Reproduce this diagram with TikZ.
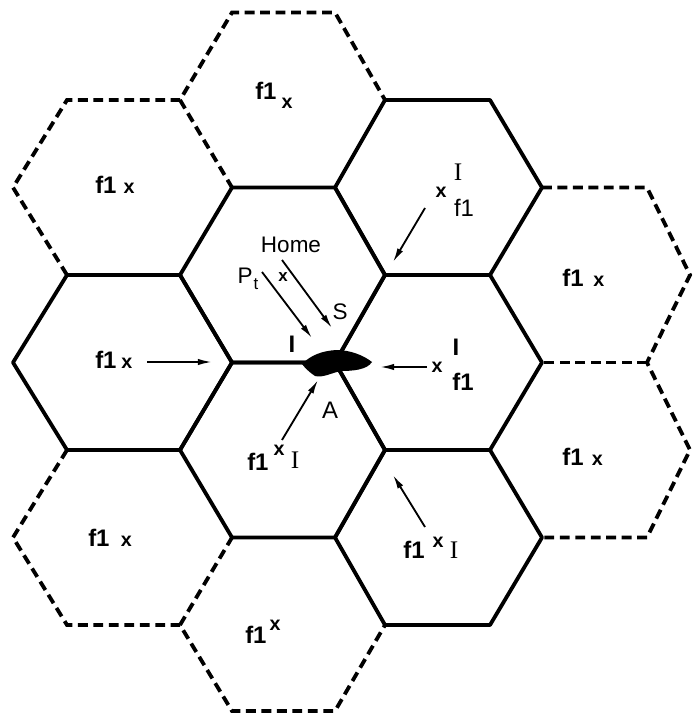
\documentclass[tikz,border=0pt]{standalone}
\usepackage{fontspec}
\setmainfont{Liberation Sans}
\newfontfamily\serifI{Liberation Serif}
\usetikzlibrary{arrows.meta}
\newcommand{\sx}{{\fontsize{14}{16}\selectfont x}}

\begin{document}
\begin{tikzpicture}[x=0.025cm,y=-0.025cm,
    cell/.style={line width=2.7pt,line join=round},
    ghost/.style={line width=2.7pt,dash pattern=on 7pt off 4pt},
    arr/.style={-{Latex[length=10pt,width=4.5pt]},line width=1.3pt},
    lbl/.style={inner sep=0pt,font=\fontsize{17}{20}\selectfont\bfseries},
    sm/.style={inner sep=0pt,font=\fontsize{14}{16}\selectfont\bfseries},
    txt/.style={inner sep=0pt,font=\fontsize{16}{19}\selectfont}]
        \useasboundingbox(0,0)rectangle(693,714);
        % 破線のセル
        \draw[ghost](67,275)--(13,187.5)--(67,100)--(180,100)--(232,12.5)--(335,12.5)--(385,100);
        \draw[ghost](180,100)--(232,187.5);
        \draw[ghost](542,187.5)--(647,187.5)--(690,275)--(647,362.5)--(690,450)--(647,537.5)--(542,537.5);
        \draw[ghost](647,362.5)--(542,362.5);
        \draw[ghost](67,450)--(13,537.5)--(67,625)--(180,625)--(232,711)--(335,711)--(385,625);
        \draw[ghost](180,625)--(232,537.5);
        % 実線のセル
        \foreach \L/\a/\b/\R/\y in {13/67/180/232/362.5,180/232/335/385/275,180/232/335/385/450,
                                  335/385/490/542/187.5,335/385/490/542/362.5,335/385/490/542/537.5}
            \draw[cell](\L,\y)--(\a,\y-87.5)--(\b,\y-87.5)--(\R,\y)--(\b,\y+87.5)--(\a,\y+87.5)--cycle;
        % 移動局
        \fill(302,364)..controls(311,355)and(322,351)..(336,350)..controls(350,350)and(363,355)..(372,362)
            ..controls(367,370)and(352,371)..(341,371)..controls(331,373)and(323,378)..(315,376)
            ..controls(309,372)and(305,368)..cycle;
        % ラベル
        \node[lbl,anchor=west](topf)at(255,91){f1};
        \node[sm](topx)at(287,103){x};
        \node[lbl,anchor=west](ul)at(95,185){f1\hspace{5pt}\sx};
        \node[lbl,anchor=west](ml)at(95,360){f1\hspace{3.5pt}\sx};
        \node[lbl,anchor=west](ll)at(88,538){f1\hspace{8pt}\sx};
        \node[lbl,anchor=west](botf)at(245,635){f1};
        \node[sm](botx)at(275,625){x};
        \node[lbl,anchor=west](ur)at(562,278){f1\hspace{7pt}\sx};
        \node[lbl,anchor=west](lr)at(562,457){f1\hspace{6pt}\sx};
        % ホームセル
        \node[txt](home)at(291,245){Home};
        \node[txt](P)at(245,276){P};
        \node[txt,font=\fontsize{12}{14}\selectfont](t)at(256,284){t};
        \node[sm,font=\fontsize{12}{14}\selectfont\bfseries](homex)at(283,277){x};
        \node[txt](S)at(340,312){S};
        \node[txt,font=\fontsize{17}{20}\selectfont\bfseries](I0)at(292,344){I};
        \node[txt,font=\fontsize{17}{20}\selectfont](A)at(330,410){A};
        % 干渉波
        \node[lbl,anchor=west](df)at(247,462){f1};
        \node[sm](dx)at(279,450){x};
        \node[txt,font=\fontsize{18}{20}\selectfont\serifI](dI)at(295,460){I};
        \node[sm](nex)at(441,192){x};
        \node[txt,font=\fontsize{18}{20}\selectfont\serifI](neI)at(458,172){I};
        \node[lbl,font=\fontsize{17}{20}\selectfont](nef)at(464,208){f1};
        \node[sm](ex)at(437,367){x};
        \node[txt,font=\fontsize{17}{20}\selectfont\bfseries](eI)at(456,347){I};
        \node[lbl](ef)at(463,382){f1};
        \node[lbl](sef)at(414,550){f1};
        \node[sm](sex)at(438,542){x};
        \node[txt,font=\fontsize{18}{20}\selectfont\serifI](seI)at(454,550){I};
        % 矢印
        \coordinate(pts)at(262,272);\coordinate(pte)at(312,338);
        \coordinate(hs)at(282,260);\coordinate(he)at(332,328);
        \coordinate(mls)at(147,362);\coordinate(mle)at(212,362);
        \coordinate(ds)at(282,440);\coordinate(de)at(318,380);
        \coordinate(nes)at(425,208);\coordinate(nee)at(393,262);
        \coordinate(es)at(427,367);\coordinate(ee)at(380,367);
        \coordinate(ses)at(425,527);\coordinate(see)at(393,475);
        \foreach \n in {pt,h,ml,d,ne,e,se}
            \draw[arr](\n s)--(\n e);
\end{tikzpicture}
\end{document}
